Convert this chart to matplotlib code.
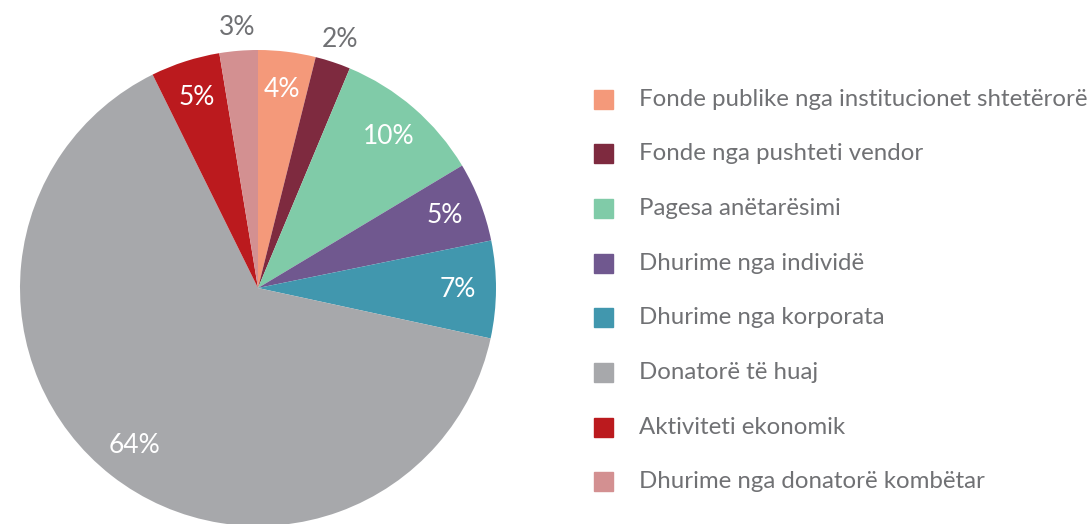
import matplotlib.pyplot as plt
from matplotlib.patches import Rectangle
import numpy as np

labels = ['Fonde publike nga institucionet shtetërorë', 'Fonde nga pushteti vendor',
          'Pagesa anëtarësimi', 'Dhurime nga individë', 'Dhurime nga korporata',
          'Donatorë të huaj', 'Aktiviteti ekonomik', 'Dhurime nga donatorë kombëtar']
values = [3.9, 2.4, 10.1, 5.4, 6.6, 64.3, 4.7, 2.6]
pct_labels = ['4%', '2%', '10%', '5%', '7%', '64%', '5%', '3%']
outside = [False, True, False, False, False, False, False, True]
colors = ['#F4997A', '#7E2A3F', '#80CBA8', '#70588F', '#4197AE', '#A7A8AB', '#BB1A1E', '#D39091']

plt.rcParams['font.family'] = ['Lato', 'DejaVu Sans']
txt_col = '#707174'

fig = plt.figure(figsize=(10.9, 5.24), dpi=100)
ax = fig.add_axes([20/1090, -2/524, 476/1090, 476/524])
wedges, _ = ax.pie(values, colors=colors, startangle=90, counterclock=False,
                   wedgeprops={'linewidth': 0})
ax.set_xlim(-1, 1)
ax.set_ylim(-1, 1)
ax.set_aspect('equal')

for w, lab, out in zip(wedges, pct_labels, outside):
    ang = np.deg2rad((w.theta1 + w.theta2) / 2)
    r = 1.1 if out else 0.84
    ax.text(r*np.cos(ang), r*np.sin(ang), lab, ha='center', va='center',
            fontsize=19, color=txt_col if out else 'white')

# legend drawn by hand
y0 = 1 - 99/524
step = 54.7/524
for i, (lab, c) in enumerate(zip(labels, colors)):
    y = y0 - i*step
    fig.patches.append(Rectangle((594/1090, y - 9.5/524), 19/1090, 19/524,
                                 transform=fig.transFigure, color=c))
    fig.text(639/1090, y, lab, ha='left', va='center', fontsize=17.3, color=txt_col)

fig.savefig('out.png', dpi=100)
